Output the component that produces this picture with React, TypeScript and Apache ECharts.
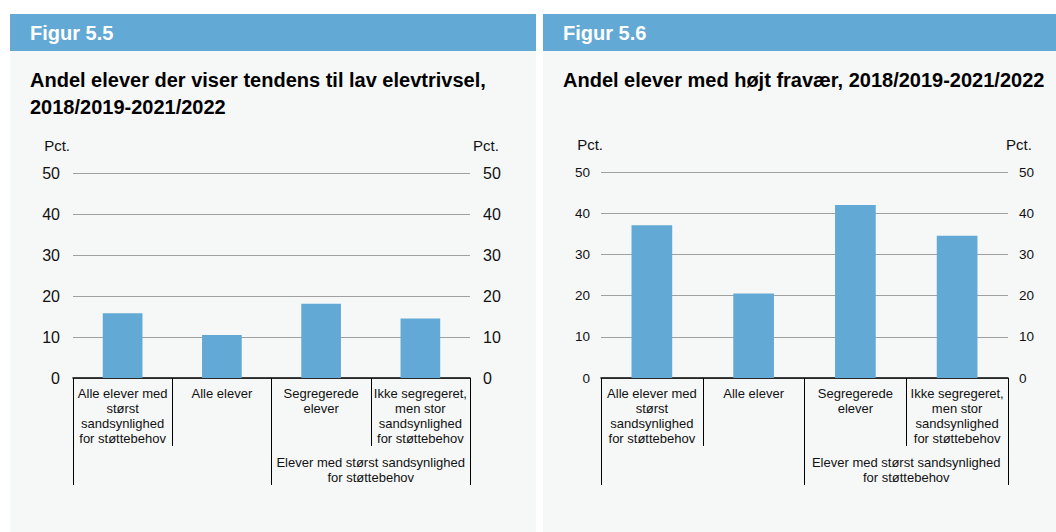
import React, { useEffect, useRef } from "react";
import * as echarts from "echarts";

const categories = [
  "Alle elever med\nstørst\nsandsynlighed\nfor støttebehov",
  "Alle elever",
  "Segregerede\nelever",
  "Ikke segregeret,\nmen stor\nsandsynlighed\nfor støttebehov",
];
const groupLabels = ["", "Elever med størst sandsynlighed\nfor støttebehov"];
const trivselValues = [15.8, 10.5, 18.1, 14.5];
const fravaerValues = [37.1, 20.5, 42.0, 34.5];
const figureLabels = ["Figur 5.5", "Figur 5.6"];
const titles = [
  "Andel elever der viser tendens til lav elevtrivsel,\n2018/2019-2021/2022",
  "Andel elever med højt fravær, 2018/2019-2021/2022",
];
const unitLabel = "Pct.";
const yMin = 0;
const yMax = 50;
const yInterval = 10;

const FONT = "Liberation Sans, Arial, Helvetica, sans-serif";
const BLUE = "#63a9d5";
const PANEL = "#f6f8f8";

export default function App() {
  const ref = useRef<HTMLDivElement>(null);
  useEffect(() => {
    document.body.style.margin = "0";
    const chart = echarts.init(ref.current!, undefined, { renderer: "svg" });

    const grids = [
      { left: 73, right: 1056 - 470, top: 173, bottom: 532 - 378 },
      { left: 601, right: 1056 - 1008, top: 172, bottom: 532 - 378 },
    ];
    const tickFont = [16, 13.5];
    const labelMargin = [13, 11];

    const xAxis: any[] = [];
    const yAxis: any[] = [];
    grids.forEach((g, i) => {
      xAxis.push({
        type: "category",
        gridIndex: i,
        data: categories,
        position: "bottom",
        axisLine: { show: true, lineStyle: { color: "#000", width: 1.5 } },
        axisTick: { show: true, length: 68, interval: 0, lineStyle: { color: "#000", width: 1 } },
        axisLabel: {
          interval: 0,
          margin: 8,
          fontFamily: FONT,
          fontSize: 13,
          lineHeight: 15,
          color: "#111",
          verticalAlign: "top",
        },
        splitLine: { show: false },
      });
      xAxis.push({
        type: "category",
        gridIndex: i,
        data: groupLabels,
        position: "bottom",
        axisLine: { show: false },
        axisTick: { show: true, length: 107, interval: 0, lineStyle: { color: "#000", width: 1 } },
        axisLabel: {
          interval: 0,
          margin: 77,
          fontFamily: FONT,
          fontSize: 13,
          lineHeight: 15,
          color: "#111",
          verticalAlign: "top",
        },
        splitLine: { show: false },
      });
      yAxis.push({
        type: "value",
        gridIndex: i,
        position: "left",
        min: yMin,
        max: yMax,
        interval: yInterval,
        name: unitLabel,
        nameLocation: "end",
        nameGap: 20,
        nameTextStyle: {
          fontFamily: FONT,
          fontSize: 15,
          color: "#111",
          align: "right",
          padding: [0, i === 0 ? 3 : -2, 0, 0],
        },
        axisLine: { show: false },
        axisTick: { show: false },
        axisLabel: { fontFamily: FONT, fontSize: tickFont[i], color: "#111", margin: labelMargin[i] },
        splitLine: { show: true, lineStyle: { color: "#a0a0a0", width: 1 } },
      });
      yAxis.push({
        type: "value",
        gridIndex: i,
        position: "right",
        min: yMin,
        max: yMax,
        interval: yInterval,
        name: unitLabel,
        nameLocation: "end",
        nameGap: 20,
        nameTextStyle: {
          fontFamily: FONT,
          fontSize: 15,
          color: "#111",
          align: "left",
          padding: [0, 0, 0, i === 0 ? 3 : -2],
        },
        axisLine: { show: false },
        axisTick: { show: false },
        axisLabel: { fontFamily: FONT, fontSize: tickFont[i], color: "#111", margin: labelMargin[i] },
        splitLine: { show: false },
      });
    });

    const panels = [
      { x: 10, w: 526 },
      { x: 543, w: 513 },
    ];
    const graphic: any[] = [];
    panels.forEach((p, i) => {
      graphic.push({
        type: "rect",
        z: -10,
        shape: { x: p.x, y: 14, width: p.w, height: 518 },
        style: { fill: PANEL },
        silent: true,
      });
      graphic.push({
        type: "rect",
        z: -9,
        shape: { x: p.x, y: 14, width: p.w, height: 37 },
        style: { fill: BLUE },
        silent: true,
      });
      graphic.push({
        type: "text",
        x: p.x + 20,
        y: 32.5,
        style: {
          text: figureLabels[i],
          fill: "#fff",
          font: `bold 20px ${FONT}`,
          verticalAlign: "middle",
        },
      });
      graphic.push({
        type: "text",
        x: p.x + 20,
        y: 66,
        style: {
          text: titles[i],
          fill: "#000",
          font: `bold 20px ${FONT}`,
          lineHeight: 27,
          verticalAlign: "top",
        },
      });
    });

    chart.setOption({
      animation: false,
      backgroundColor: "#fff",
      grid: grids,
      xAxis,
      yAxis,
      graphic,
      series: [
        {
          type: "bar",
          xAxisIndex: 0,
          yAxisIndex: 0,
          data: trivselValues,
          barWidth: "40%",
          itemStyle: { color: BLUE },
        },
        {
          type: "bar",
          xAxisIndex: 2,
          yAxisIndex: 2,
          data: fravaerValues,
          barWidth: "40%",
          itemStyle: { color: BLUE },
        },
      ],
    });
    return () => chart.dispose();
  }, []);
  return <div ref={ref} style={{ width: 1056, height: 532 }} />;
}
